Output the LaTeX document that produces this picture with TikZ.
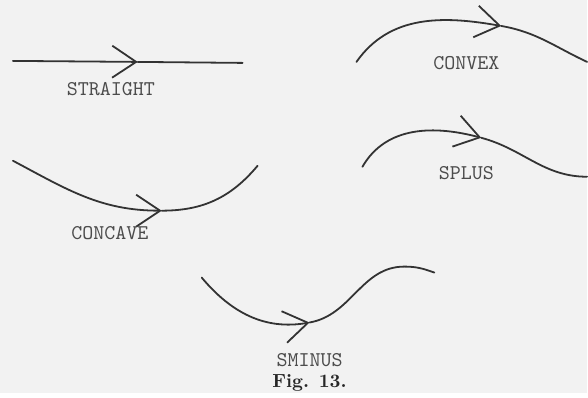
\documentclass[tikz,border=0pt]{standalone}
\usepackage{tikz}
\usetikzlibrary{arrows.meta}

\begin{document}
\begin{tikzpicture}[x=0.5pt, y=0.5pt,
        curve/.style = {draw=black!80, line width=0.9pt, line cap=round},
        barb/.style = {-{Straight Barb[length=12pt, width=16pt, line width=0.9pt]}},
        curvename/.style = {text=black!70, font=\fontsize{10.5}{12}\selectfont\ttfamily},
        figcap/.style = {text=black!85, font=\fontsize{9.5}{11}\selectfont\bfseries}]
            \fill[black!5] (0,0) rectangle (588,394);
            \coordinate (S1) at (13,333);   \coordinate (St) at (138,332);  \coordinate (S2) at (243,331);
            \coordinate (C1) at (357,332);  \coordinate (Ct) at (502,368);  \coordinate (C2) at (588,332);
            \coordinate (P1) at (363,227);  \coordinate (Pt) at (482,256);  \coordinate (P2) at (588,217);
            \coordinate (K1) at (13,233);   \coordinate (Kt) at (162,183);  \coordinate (K2) at (258,228);
            \coordinate (M1) at (202,116);  \coordinate (Mt) at (310,71);   \coordinate (Mp) at (405,127);
            \coordinate (M2) at (435,121);
            \draw[curve, barb] (S1) -- (St);
            \draw[curve] (St) -- (S2);
            \draw[curve, barb] (C1) to[out=55, in=170] (Ct);
            \draw[curve] (Ct) to[out=-10, in=155] (C2);
            \draw[curve, barb] (P1) to[out=60, in=165] (Pt);
            \draw[curve] (Pt) to[out=-15, in=180] (P2);
            \draw[curve, barb] (K1) to[out=-28, in=180] (Kt);
            \draw[curve] (Kt) to[out=0, in=230] (K2);
            \draw[curve, barb] (M1) to[out=-50, in=190] (Mt);
            \draw[curve] (Mt) to[out=10, in=180] (Mp) to[out=0, in=160] (M2);
            \node[curvename] (straight) at (111,305) {STRAIGHT};
            \node[curvename] (convex) at (467,331) {CONVEX};
            \node[curvename] (splus) at (467,221) {SPLUS};
            \node[curvename] (concave) at (110,161) {CONCAVE};
            \node[curvename] (sminus) at (310,33) {SMINUS};
            \node[figcap] (fig) at (310,11) {Fig. 13.};
\end{tikzpicture}
\end{document}
